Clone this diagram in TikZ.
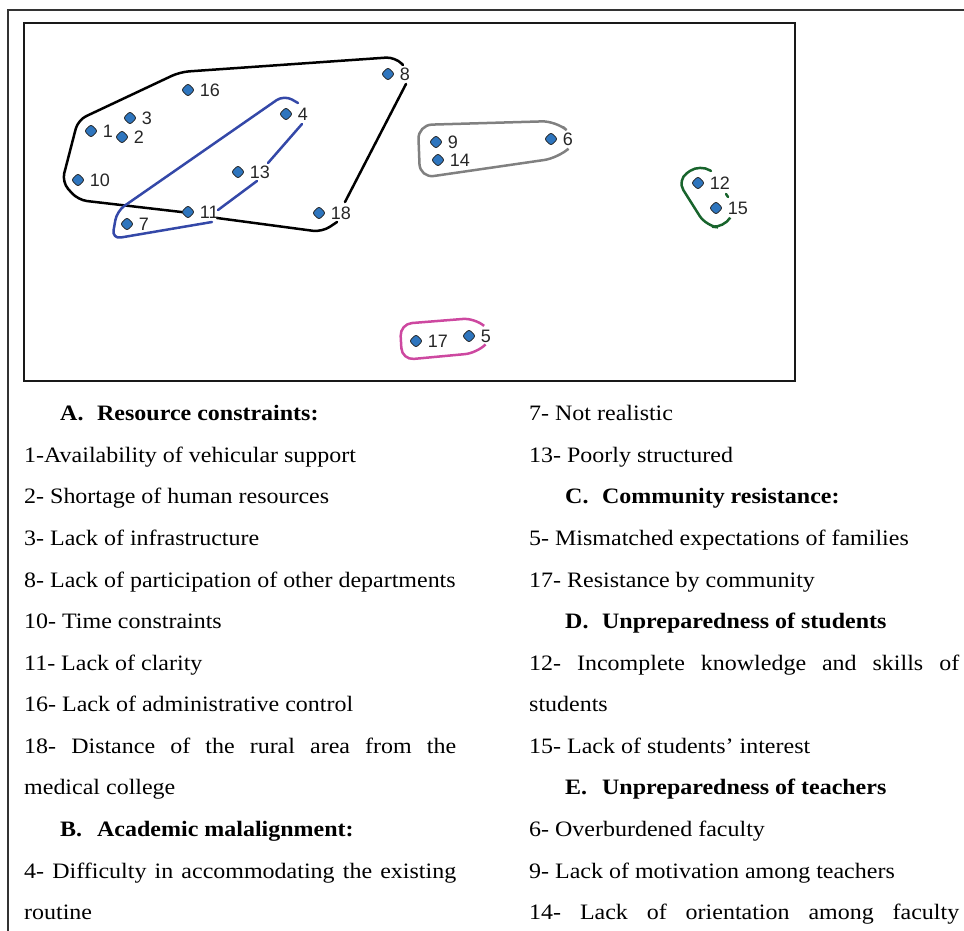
\documentclass[tikz,border=0pt]{standalone}
\usepackage{fontspec}
\setmainfont{Liberation Serif}[FakeStretch=1.09]
\newfontfamily\labfont{Liberation Sans}
\usetikzlibrary{shapes.geometric}
\definecolor{ptblue}{RGB}{46,117,190}
\definecolor{hullblue}{RGB}{52,72,168}
\definecolor{hullgray}{RGB}{128,128,128}
\definecolor{hullgreen}{RGB}{24,100,44}
\definecolor{hullpink}{RGB}{205,72,160}
\begin{document}
\begin{tikzpicture}[x=1pt,y=-1pt,
  pt/.style={diamond, draw=black!85, line width=0.8pt, fill=ptblue, minimum size=13.5pt, inner sep=0pt, rounded corners=2.5pt},
  lab/.style={font=\labfont\fontsize{18}{18}\selectfont, inner sep=0pt, text=black!85},
  label distance=4.5pt,
  txt/.style={font=\fontsize{22}{22}\selectfont, anchor=base west, inner sep=0pt},
  hull/.style={line width=2.5pt, rounded corners=9pt, line cap=round}]
\useasboundingbox (0,0) rectangle (964,931);
% frames
\draw[black!80, line width=1.4pt] (964,10) -- (8,10) -- (8,931);
\draw[black!90, line width=2.2pt] (24,23) rectangle (795,381);
% hulls
\draw[hull, black] (403,65) -- (395,57) -- (180,72) -- (78,120) -- (62,182) -- (78,200) -- (190,213);
\draw[hull, black] (217,218) -- (322,232) -- (337,222);
\draw[hull, black] (345,202) -- (406,84);
\draw[hull, hullblue] (298,103) -- (284,95) -- (117,211) -- (112,239) -- (212,222);
\draw[hull, hullblue] (218,210) -- (257,181);
\draw[hull, hullblue] (268,163) -- (302,124);
\draw[hull, hullgray, rounded corners=14pt] (563,127) -- (556,121) -- (418,125) -- (420,178) -- (558,158) -- (567,150);
\draw[hull, hullgreen, rounded corners=12pt] (711,171) -- (700,164) -- (677,180) -- (706,226) -- (724,228) -- (730,218);
\draw[hull, hullgreen] (726,194) -- (728,197);
\draw[hull, hullpink, rounded corners=12pt] (483,325) -- (475,318) -- (400,324) -- (402,360) -- (477,353) -- (485,345);
% points
\node[pt, label={[lab]right:1}] (p1) at (91,131) {};
\node[pt, label={[lab]right:2}] (p2) at (122,137) {};
\node[pt, label={[lab]right:3}] (p3) at (130,118) {};
\node[pt, label={[lab]right:4}] (p4) at (286,114) {};
\node[pt, label={[lab]right:5}] (p5) at (469,336) {};
\node[pt, label={[lab]right:6}] (p6) at (551,139) {};
\node[pt, label={[lab]right:7}] (p7) at (127,224) {};
\node[pt, label={[lab]right:8}] (p8) at (388,74) {};
\node[pt, label={[lab]right:9}] (p9) at (436,142) {};
\node[pt, label={[lab]right:10}] (p10) at (78,180) {};
\node[pt, label={[lab]right:11}] (p11) at (188,212) {};
\node[pt, label={[lab]right:12}] (p12) at (698,183) {};
\node[pt, label={[lab]right:13}] (p13) at (238,172) {};
\node[pt, label={[lab]right:14}] (p14) at (438,160) {};
\node[pt, label={[lab]right:15}] (p15) at (716,208) {};
\node[pt, label={[lab]right:16}] (p16) at (188,90) {};
\node[pt, label={[lab]right:17}] (p17) at (416,341) {};
\node[pt, label={[lab]right:18}] (p18) at (319,213) {};
% left column
\node[txt] (ha) at (60,420) {\textbf{\makebox[37pt][l]{A.}Resource constraints:}};
\node[txt] (t1) at (24,462) {1-Availability of vehicular support};
\node[txt] (t2) at (24,503) {2- Shortage of human resources};
\node[txt] (t3) at (24,545) {3- Lack of infrastructure};
\node[txt] (t8) at (24,587) {8- Lack of participation of other departments};
\node[txt] (t10) at (24,628) {10- Time constraints};
\node[txt] (t11) at (24,670) {11- Lack of clarity};
\node[txt] (t16) at (24,711) {16- Lack of administrative control};
\node[txt] (t18) at (24,753) {\makebox[432pt][s]{18- Distance of the rural area from the}};
\node[txt] (t18b) at (24,794) {medical college};
\node[txt] (hb) at (60,836) {\textbf{\makebox[37pt][l]{B.}Academic malalignment:}};
\node[txt] (t4) at (24,878) {\makebox[432pt][s]{4- Difficulty in accommodating the existing}};
\node[txt] (t4b) at (24,919) {routine};
% right column
\node[txt] (t7) at (529,420) {7- Not realistic};
\node[txt] (t13) at (529,462) {13- Poorly structured};
\node[txt] (hc) at (565,503) {\textbf{\makebox[37pt][l]{C.}Community resistance:}};
\node[txt] (t5) at (529,545) {5- Mismatched expectations of families};
\node[txt] (t17) at (529,587) {17- Resistance by community};
\node[txt] (hd) at (565,628) {\textbf{\makebox[37pt][l]{D.}Unpreparedness of students}};
\node[txt] (t12) at (529,670) {\makebox[430pt][s]{12- Incomplete knowledge and skills of}};
\node[txt] (t12b) at (529,711) {students};
\node[txt] (t15) at (529,753) {15- Lack of students’ interest};
\node[txt] (he) at (565,794) {\textbf{\makebox[37pt][l]{E.}Unpreparedness of teachers}};
\node[txt] (t6) at (529,836) {6- Overburdened faculty};
\node[txt] (t9) at (529,878) {9- Lack of motivation among teachers};
\node[txt] (t14) at (529,919) {\makebox[430pt][s]{14- Lack of orientation among faculty}};
\end{tikzpicture}
\end{document}
